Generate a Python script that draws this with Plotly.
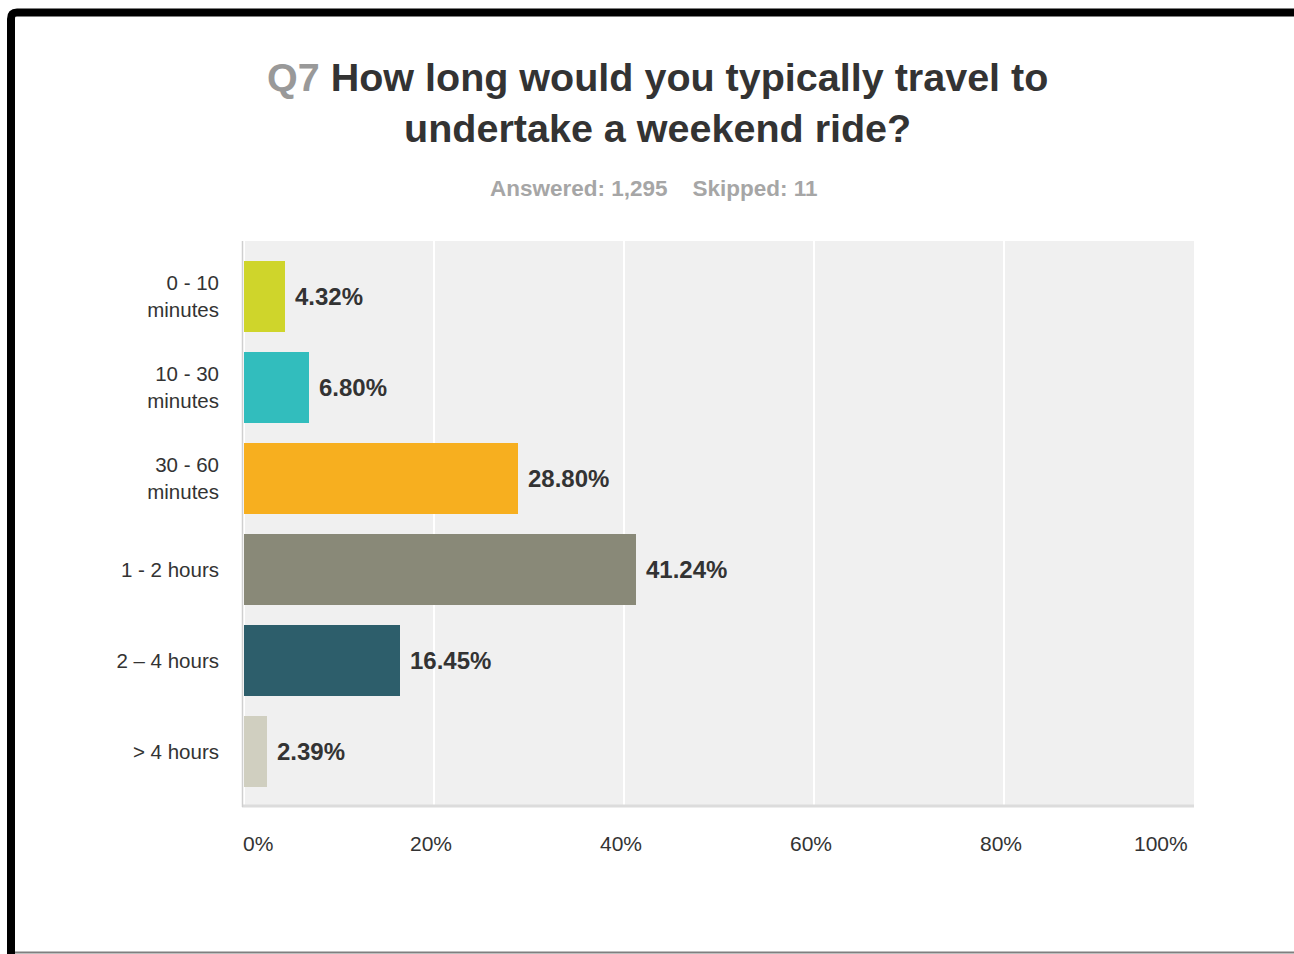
import plotly.graph_objects as go

# Survey responses, Q7
categories = ["0 - 10<br>minutes", "10 - 30<br>minutes", "30 - 60<br>minutes",
              "1 - 2 hours", "2 \u2013 4 hours", "> 4 hours"]
values = [4.32, 6.80, 28.80, 41.24, 16.45, 2.39]
colors = ["#cfd52b", "#32bdbd", "#f7af1f", "#898978", "#2d5e6b", "#d0cfc0"]
x_ticks = [0, 20, 40, 60, 80, 100]
x_tick_text = ["0%", "20%", "40%", "60%", "80%", "100%"]

W, H = 1294, 954
PL, PR, PT, PB = 242, 1194, 241, 807  # plot area in pixels


def px(x):
    return (x - PL) / (PR - PL)


def py(y):
    return (PB - y) / (PB - PT)


FONT = "Liberation Sans, Arial, sans-serif"

fig = go.Figure()
fig.add_trace(go.Bar(
    y=categories, x=values, orientation="h",
    marker=dict(color=colors, line=dict(width=0)),
    width=0.78, hoverinfo="skip",
))

annotations = []
# value labels beside each bar
for cat, v in zip(categories, values):
    annotations.append(dict(
        x=v, y=cat, xref="x", yref="y", text=f"<b>{v:.2f}%</b>",
        showarrow=False, xanchor="left", yanchor="middle", xshift=8,
        font=dict(family=FONT, size=24, color="#333333"),
    ))
# x tick labels (end labels nudged inside the axis span)
for t, lab in zip(x_ticks, x_tick_text):
    if t == x_ticks[0]:
        anchor, shift = "left", -3
    elif t == x_ticks[-1]:
        anchor, shift = "right", -4
    else:
        anchor, shift = "center", -3
    annotations.append(dict(
        x=t, y=py(843), xref="x", yref="paper", text=lab, showarrow=False,
        xanchor=anchor, yanchor="middle", xshift=shift,
        font=dict(family=FONT, size=21, color="#333333"),
    ))
# title and subtitle
annotations.append(dict(
    x=px(657), y=py(102), xref="paper", yref="paper",
    text="<b><span style='color:#999999'>Q7</span> How long would you typically travel to"
         "<br>undertake a weekend ride?</b>",
    showarrow=False, xanchor="center", yanchor="middle", align="center",
    font=dict(family=FONT, size=39.5, color="#333333"),
))
annotations.append(dict(
    x=px(654), y=py(188), xref="paper", yref="paper",
    text="<b>Answered: 1,295\u00a0\u00a0\u00a0\u00a0Skipped: 11</b>",
    showarrow=False, xanchor="center", yanchor="middle",
    font=dict(family=FONT, size=22.5, color="#a6a6a6"),
))

shapes = [
    # light baseline under the plot
    dict(type="line", xref="paper", yref="paper", x0=0, x1=1, y0=py(806), y1=py(806),
         line=dict(color="#dcdcdc", width=3), layer="above"),
    # left axis line
    dict(type="line", xref="paper", yref="paper", x0=px(242.5), x1=px(242.5), y0=0, y1=1,
         line=dict(color="#cfcfcf", width=1.5), layer="above"),
    # frame around the page
    dict(type="path", xref="paper", yref="paper",
         path=f"M {px(11)},{py(970)} L {px(11)},{py(19)} Q {px(11)},{py(12.5)} {px(17)},{py(12.5)} "
              f"L {px(1310)},{py(12.5)}",
         line=dict(color="#000000", width=8)),
    dict(type="line", xref="paper", yref="paper", x0=px(15), x1=px(1310),
         y0=py(952.5), y1=py(952.5), line=dict(color="#7f7f7f", width=2)),
]

fig.update_layout(
    width=W, height=H,
    margin=dict(l=PL, r=W - PR, t=PT, b=H - PB, pad=0),
    paper_bgcolor="#ffffff", plot_bgcolor="#f0f0f0",
    showlegend=False, bargap=0,
    font=dict(family=FONT, size=20, color="#333333"),
    xaxis=dict(range=[-0.2, 100], tickvals=x_ticks, showticklabels=False,
               showgrid=True, gridcolor="#ffffff", gridwidth=2, zeroline=False,
               showline=False, fixedrange=True),
    yaxis=dict(range=[5.61, -0.61], showgrid=False, zeroline=False, showline=False,
               ticks="", ticklabelstandoff=22,
               tickfont=dict(family=FONT, size=20.5, color="#333333"), fixedrange=True),
    annotations=annotations, shapes=shapes,
)

fig.write_html("out.html", config={"displayModeBar": False})
